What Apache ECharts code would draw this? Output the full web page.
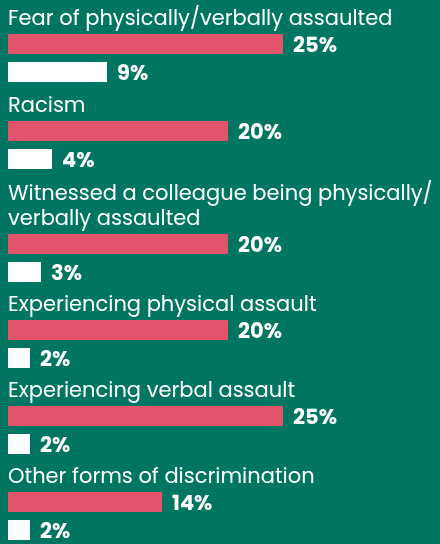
<!DOCTYPE html>
<html>
<head>
<meta charset="utf-8">
<script src="https://cdn.jsdelivr.net/npm/echarts@6/dist/echarts.min.js"></script>
<style>
html,body{margin:0;padding:0;background:#007662;}
#c{width:440px;height:544px;}
</style>
</head>
<body>
<div id="c"></div>
<script>
var categories = [
  "Fear of physically/verbally assaulted",
  "Racism",
  "Witnessed a colleague being physically/\nverbally assaulted",
  "Experiencing physical assault",
  "Experiencing verbal assault",
  "Other forms of discrimination"
];
var redValues = [25, 20, 20, 20, 25, 14];
var whiteValues = [9, 4, 3, 2, 2, 2];

var groupTops = [34, 121, 234, 320, 406, 492];
var FONT = "Poppins, 'Open Sans', Lato, sans-serif";
var RED = "#e1546c", WHITE = "#ffffff";

var grids = [], xAxes = [], yAxes = [], series = [], titles = [];
categories.forEach(function (cat, i) {
  grids.push({ left: 8, right: 0, top: groupTops[i], height: 48, containLabel: false });
  xAxes.push({ gridIndex: i, type: 'value', min: 0, max: 432 / 11, show: false });
  yAxes.push({ gridIndex: i, type: 'category', data: [cat], show: false, inverse: true });
  var lines = cat.split("\n").length;
  titles.push({
    text: cat,
    left: 8,
    top: groupTops[i] - 27 - (lines - 1) * 25,
    padding: 0,
    textStyle: { color: '#ffffff', fontFamily: FONT, fontSize: 21, fontWeight: 'normal', lineHeight: 25 }
  });
  var lbl = {
    show: true, position: 'right', distance: 10,
    formatter: '{c}%', color: '#ffffff', fontFamily: FONT, fontSize: 21, fontWeight: 'bold',
    offset: [0, 3]
  };
  series.push({
    type: 'bar', xAxisIndex: i, yAxisIndex: i, data: [redValues[i]],
    barWidth: 20, barGap: '40%', barCategoryGap: 0,
    itemStyle: { color: RED }, label: lbl, silent: true, animation: false
  });
  series.push({
    type: 'bar', xAxisIndex: i, yAxisIndex: i, data: [whiteValues[i]],
    barWidth: 20, barGap: '40%', barCategoryGap: 0,
    itemStyle: { color: WHITE }, label: lbl, silent: true, animation: false
  });
});

var chart = echarts.init(document.getElementById('c'), null, { renderer: 'canvas' });
chart.setOption({
  backgroundColor: '#007662',
  animation: false,
  title: titles,
  grid: grids,
  xAxis: xAxes,
  yAxis: yAxes,
  series: series
});
</script>
</body>
</html>
